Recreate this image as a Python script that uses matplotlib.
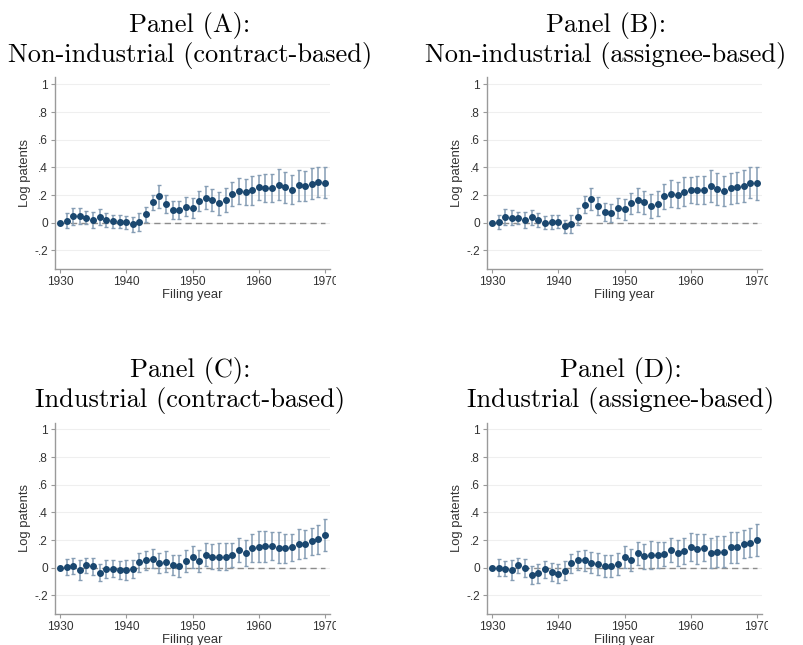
import matplotlib
matplotlib.use('Agg')
import matplotlib.pyplot as plt
import numpy as np
from matplotlib.transforms import Bbox, TransformedBbox

years = np.arange(1930, 1971)

title_top = ['Panel (A):', 'Panel (B):', 'Panel (C):', 'Panel (D):']
title_bottom = ['Non-industrial (contract-based)',
                'Non-industrial (assignee-based)',
                'Industrial (contract-based)',
                'Industrial (assignee-based)']

coef_a = [0, .015, .045, .045, .035, .02, .04, .02, .012, .007, .003, -.012, .007,
          .06, .147, .19, .135, .09, .09, .115, .105, .155, .18, .166, .14, .161,
          .205, .229, .222, .236, .255, .25, .25, .275, .255, .238, .27, .267, .28, .296, .29]
ci_a = [0, .055, .06, .058, .047, .06, .058, .05, .047, .048, .047, .052,
        .065, .057, .055, .082, .066, .066, .065, .07, .07, .072,
        .084, .08, .082, .087, .087, .096, .093, .105, .09, .099,
        .099, .11, .114, .105, .11, .11, .112, .108, .114]

coef_b = [0, .007, .043, .036, .034, .017, .039, .019, 0, .005, .005, -.027, -.007,
          .043, .13, .171, .12, .075, .072, .106, .096, .14, .164, .147, .12, .137,
          .19, .21, .198, .224, .234, .236, .236, .267, .243, .229, .25, .255, .263, .29, .285]
ci_b = [0, .05, .058, .055, .045, .058, .055, .048, .047, .048, .047, .05,
        .065, .06, .063, .08, .068, .066, .066, .072, .075, .075,
        .085, .082, .085, .09, .09, .098, .095, .105, .095, .1,
        .1, .115, .115, .105, .112, .112, .115, .11, .118]

coef_c = [0, .002, .012, -.017, .017, .01, -.036, -.012, -.007, -.014, -.017, -.007,
          .039, .053, .065, .034, .043, .019, .01, .048, .077, .048, .094, .08, .08, .08,
          .092, .128, .108, .14, .152, .154, .157, .145, .14, .147, .171, .169, .19, .207, .236]
ci_c = [0, .058, .06, .07, .055, .06, .06, .065, .06, .065, .07, .065,
        .07, .07, .07, .075, .075, .075, .08, .08, .08, .08,
        .085, .09, .095, .095, .09, .09, .095, .1, .11, .11,
        .1, .11, .105, .1, .11, .1, .1, .105, .115]

coef_d = [0, 0, -.007, -.017, .017, 0, -.05, -.041, -.012, -.031, -.043, -.022,
          .031, .053, .053, .036, .024, .014, .014, .029, .08, .055, .104, .084, .092, .092,
          .099, .128, .106, .123, .149, .135, .145, .106, .116, .116, .147, .147, .171, .18, .2]
ci_d = [0, .06, .055, .07, .055, .065, .065, .07, .06, .065, .07, .07,
        .07, .07, .075, .075, .08, .08, .08, .08, .08, .08,
        .085, .09, .1, .095, .09, .09, .095, .095, .1, .11,
        .1, .11, .11, .11, .11, .11, .1, .105, .115]

yticks = [-.2, 0, .2, .4, .6, .8, 1]
ytick_labels = ['-.2', '0', '.2', '.4', '.6', '.8', '1']
xticks = [1930, 1940, 1950, 1960, 1970]

W, H = 804, 645
fig = plt.figure(figsize=(W / 100, H / 100), dpi=100)

# axes boxes in pixels: left, top, right, bottom (top is at y = 1.05)
boxes = [(55, 77.5, 330, 269), (487, 77.5, 762, 269),
         (55, 422.5, 330, 614), (487, 422.5, 762, 614)]
# title centre x and baseline of the second line, in pixels
title_x = [190, 606, 190, 621]
title_base = [62, 62, 407, 407]
data = [(coef_a, ci_a), (coef_b, ci_b), (coef_c, ci_c), (coef_d, ci_d)]

navy = '#1a476f'
bar_col = '#859db4'
grey = '#8c8c8c'

for i, (l, t, r, b) in enumerate(boxes):
    ax = fig.add_axes([l / W, 1 - b / H, (r - l) / W, (b - t) / H])
    coef, ci = data[i]
    ax.set_xlim(1929.25, 1970.75)
    ax.set_ylim(-0.335, 1.05)

    for yv in yticks:
        ax.axhline(yv, color='#efefef', lw=0.8, zorder=0)
    ax.plot([1930, 1970], [0, 0], ls=(0, (4.5, 3)), color=grey, lw=1.0, zorder=1)

    ax.errorbar(years, coef, yerr=ci, fmt='none', ecolor=bar_col, elinewidth=1.1,
                capsize=1.7, capthick=1.0, zorder=2)
    ax.plot(years, coef, 'o', color=navy, ms=4.0, zorder=3)

    for s in ['top', 'right']:
        ax.spines[s].set_visible(False)
    for s in ['left', 'bottom']:
        ax.spines[s].set_color('#9a9a9a')
        ax.spines[s].set_linewidth(1.0)

    ax.set_yticks(yticks)
    ax.set_yticklabels(ytick_labels)
    ax.set_xticks(xticks)
    ax.tick_params(length=3, width=0.8, color='#9a9a9a', labelsize=8.6,
                   labelcolor='#333333', pad=2)
    for lab in ax.get_xticklabels() + ax.get_yticklabels():
        lab.set_family('Liberation Sans')
    ax.set_ylabel('Log patents', fontsize=9.4, family='Liberation Sans',
                  color='#333333', labelpad=2.5)
    ax.set_xlabel('Filing year', fontsize=9.4, family='Liberation Sans',
                  color='#333333', labelpad=1)

    # last tick label is cut off at the panel edge
    last = ax.get_xticklabels()[-1]
    clip = TransformedBbox(Bbox([[0, 0], [(r + 6) / W, 1]]), fig.transFigure)
    last.set_clip_on(True)
    last.set_clip_box(clip)

    cx = title_x[i] / W
    yb = title_base[i]
    fig.text(cx, 1 - (yb - 30) / H, title_top[i], ha='center', va='baseline',
             fontsize=19, family='cmr10')
    fig.text(cx, 1 - yb / H, title_bottom[i], ha='center', va='baseline',
             fontsize=19, family='cmr10')

fig.savefig('out.png', dpi=100, facecolor='white')
